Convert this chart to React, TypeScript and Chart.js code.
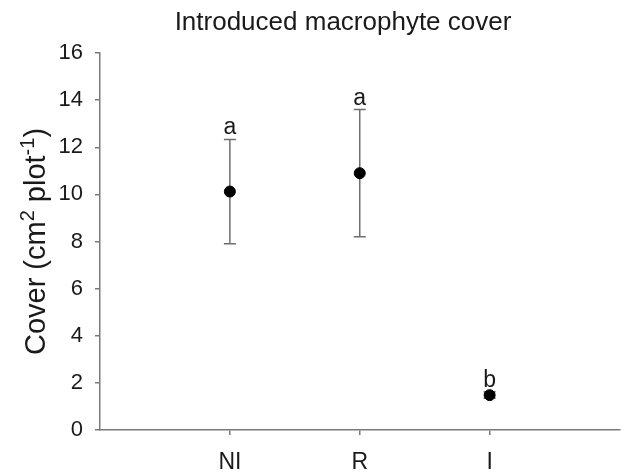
import React, { useEffect, useRef } from "react";
import { Chart, registerables } from "chart.js";

Chart.register(...registerables);

const categories = ["NI", "R", "I"];
const means = [10.12, 10.9, 1.48];
const upperErr = [12.33, 13.6, 1.62];
const lowerErr = [7.9, 8.2, 1.35];
const letters = ["a", "a", "b"];
const yMin = 0;
const yMax = 16;
const yStep = 2;
const titleText = "Introduced macrophyte cover";
const yTitleParts = [
  { t: "Cover (cm", sup: false },
  { t: "2", sup: true },
  { t: " plot", sup: false },
  { t: "-1", sup: true },
  { t: ")", sup: false },
];

const FONT = "'Liberation Sans', Arial, Helvetica, sans-serif";
const AXIS = "#7a7a7a";
const TEXT = "#1a1a1a";

const overlay = {
  id: "overlay",
  beforeDatasetsDraw(chart: any) {
    const ctx = chart.ctx;
    const xs = chart.scales.x;
    const ys = chart.scales.y;
    ctx.save();
    ctx.strokeStyle = "#6e6e6e";
    ctx.lineWidth = 1.5;
    categories.forEach((_, i) => {
      const x = xs.getPixelForValue(i + 1);
      const yt = ys.getPixelForValue(upperErr[i]);
      const yb = ys.getPixelForValue(lowerErr[i]);
      ctx.beginPath();
      ctx.moveTo(x, yt);
      ctx.lineTo(x, yb);
      ctx.moveTo(x - 6, yt);
      ctx.lineTo(x + 6, yt);
      ctx.moveTo(x - 6, yb);
      ctx.lineTo(x + 6, yb);
      ctx.stroke();
    });
    ctx.restore();
  },
  afterDatasetsDraw(chart: any) {
    const ctx = chart.ctx;
    const xs = chart.scales.x;
    const ys = chart.scales.y;
    const area = chart.chartArea;
    ctx.save();
    ctx.fillStyle = TEXT;
    ctx.font = `23px ${FONT}`;
    ctx.textAlign = "center";
    ctx.textBaseline = "alphabetic";
    categories.forEach((_, i) => {
      const x = xs.getPixelForValue(i + 1);
      const yt = ys.getPixelForValue(upperErr[i]);
      ctx.fillText(letters[i], x, yt - 5);
    });
    // title
    ctx.font = `26px ${FONT}`;
    ctx.fillText(titleText, 343, 30);
    // y title with superscripts
    const big = `29px ${FONT}`;
    const small = `20px ${FONT}`;
    let total = 0;
    yTitleParts.forEach((p) => {
      ctx.font = p.sup ? small : big;
      total += ctx.measureText(p.t).width;
    });
    ctx.translate(45, (area.top + area.bottom) / 2);
    ctx.rotate(-Math.PI / 2);
    ctx.textAlign = "left";
    ctx.textBaseline = "alphabetic";
    let cx = -total / 2;
    yTitleParts.forEach((p) => {
      ctx.font = p.sup ? small : big;
      ctx.fillText(p.t, cx, p.sup ? -11 : 0);
      cx += ctx.measureText(p.t).width;
    });
    ctx.restore();
  },
};

export default function App() {
  const ref = useRef<HTMLCanvasElement>(null);
  useEffect(() => {
    if (!ref.current) return;
    const chart = new Chart(ref.current, {
      type: "scatter",
      data: {
        datasets: [
          {
            data: means.map((m, i) => ({ x: i + 1, y: m })),
            backgroundColor: "#000",
            borderColor: "#000",
            pointRadius: 5.5,
            pointHoverRadius: 5.5,
          },
        ],
      },
      options: {
        responsive: false,
        animation: false,
        layout: { padding: { top: 53, right: 6, left: 0, bottom: 0 } },
        plugins: {
          legend: { display: false },
          tooltip: { enabled: false },
          title: { display: false },
        },
        scales: {
          x: {
            type: "linear",
            min: 0,
            max: 4,
            afterBuildTicks: (scale: any) => {
              scale.ticks = categories.map((_, i) => ({ value: i + 1 }));
            },
            afterFit: (scale: any) => {
              scale.height = 42;
            },
            ticks: {
              callback: (v: any) => categories[Number(v) - 1] ?? "",
              font: { family: FONT, size: 23 },
              color: TEXT,
              padding: 14,
              maxRotation: 0,
            },
            grid: {
              display: true,
              drawOnChartArea: false,
              drawTicks: true,
              tickLength: 5,
              color: AXIS,
              lineWidth: 1.5,
            },
            border: { display: true, color: AXIS, width: 1.5 },
          },
          y: {
            type: "linear",
            min: yMin,
            max: yMax,
            afterFit: (scale: any) => {
              scale.width = 100;
            },
            ticks: {
              stepSize: yStep,
              font: { family: FONT, size: 22 },
              color: TEXT,
              padding: 12,
            },
            grid: {
              display: true,
              drawOnChartArea: false,
              drawTicks: true,
              tickLength: 5,
              color: AXIS,
              lineWidth: 1.5,
            },
            border: { display: true, color: AXIS, width: 1.5 },
          },
        },
      },
      plugins: [overlay],
    });
    return () => chart.destroy();
  }, []);
  return (
    <div style={{ position: "fixed", left: 0, top: 0, width: 626, height: 472, background: "#fff" }}>
      <canvas ref={ref} width={626} height={472} />
    </div>
  );
}
